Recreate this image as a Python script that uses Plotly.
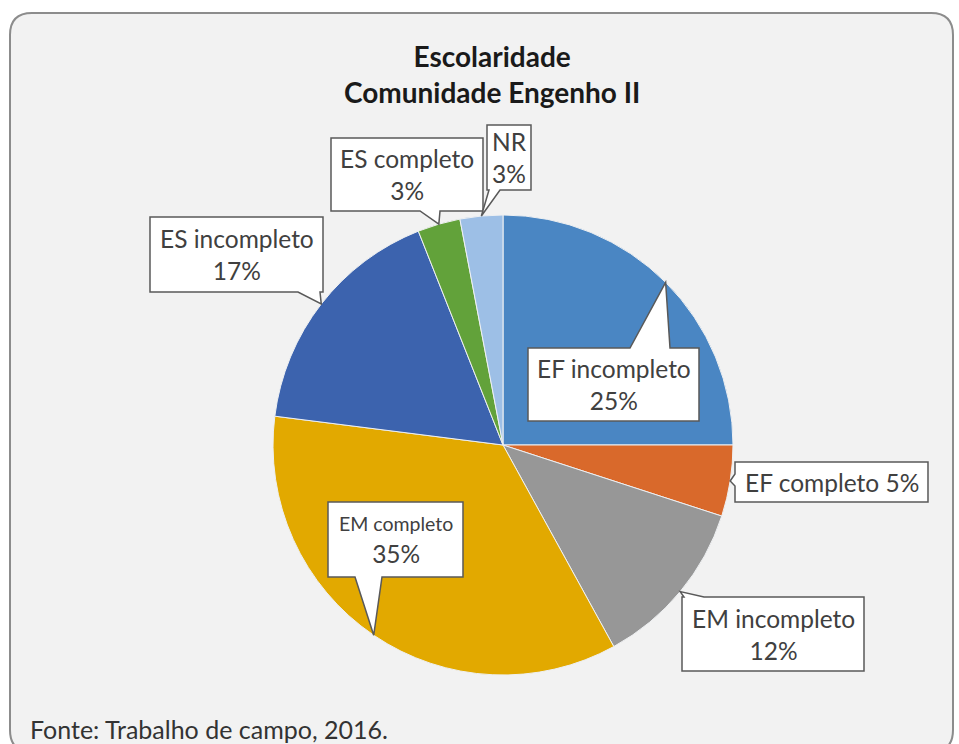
import math
import plotly.graph_objects as go

# Escolaridade - Comunidade Engenho II (percentual)
categories = ["EF incompleto", "EF completo", "EM incompleto", "EM completo",
              "ES incompleto", "ES completo", "NR"]
values = [25, 5, 12, 35, 17, 3, 3]
colors = ["#4a86c3", "#d9692b", "#979797", "#e2a900", "#3c63ae", "#62a23a", "#9dbfe6"]

W, H = 959, 744
CX, CY, R = 503, 445, 230          # pie centre / radius in pixels


def fx(x):
    return x / W


def fy(y):
    return 1 - y / H


def p(x, y):
    return f"{fx(x):.5f},{fy(y):.5f}"


fig = go.Figure()

fig.add_trace(go.Pie(
    labels=categories,
    values=values,
    sort=False,
    direction="clockwise",
    rotation=0,
    marker=dict(colors=colors, line=dict(color="#eef0f2", width=1)),
    textinfo="none",
    hoverinfo="label+percent",
    domain=dict(x=[fx(CX - R), fx(CX + R)], y=[fy(CY + R), fy(CY - R)]),
    showlegend=False,
))

# rounded chart-area frame (its bottom edge runs just past the page)
x0, y0, x1, y1, rr = 10, 13, 953, 752, 22
frame = (f"M {p(x0 + rr, y0)} L {p(x1 - rr, y0)} Q {p(x1, y0)} {p(x1, y0 + rr)} "
         f"L {p(x1, y1 - rr)} Q {p(x1, y1)} {p(x1 - rr, y1)} "
         f"L {p(x0 + rr, y1)} Q {p(x0, y1)} {p(x0, y1 - rr)} "
         f"L {p(x0, y0 + rr)} Q {p(x0, y0)} {p(x0 + rr, y0)} Z")
fig.add_shape(type="path", path=frame, xref="paper", yref="paper", layer="below",
              fillcolor="#f2f2f2", line=dict(color="#8c8c8c", width=2))


def slice_tip(i):
    """Point on the rim at the middle of slice i."""
    total = sum(values)
    cum = sum(values[:i]) + values[i] / 2
    th = 2 * math.pi * cum / total
    return CX + R * math.sin(th), CY - R * math.cos(th)


def callout(box, side, b0, b1, tip):
    bx0, by0, bx1, by1 = box
    tx, ty = tip
    if side == "top":
        pts = [(bx0, by0), (b0, by0), (tx, ty), (b1, by0), (bx1, by0), (bx1, by1), (bx0, by1)]
    elif side == "bottom":
        pts = [(bx0, by0), (bx1, by0), (bx1, by1), (b1, by1), (tx, ty), (b0, by1), (bx0, by1)]
    else:  # left
        pts = [(bx0, by0), (bx1, by0), (bx1, by1), (bx0, by1), (bx0, b1), (tx, ty), (bx0, b0)]
    path = "M " + " L ".join(p(x, y) for x, y in pts) + " Z"
    fig.add_shape(type="path", path=path, xref="paper", yref="paper", layer="above",
                  fillcolor="white", line=dict(color="#595959", width=1.5))


LABEL_FONT = "Lato"
TXT = "#404040"

# label boxes: (box, pointer side, pointer base start, pointer base end)
labels = [
    ((528, 348, 699, 421), "top", 630, 670),
    ((735, 462, 928, 502), "left", 474, 486),
    ((682, 597, 864, 671), "top", 684, 704),
    ((328, 502, 463, 577), "bottom", 355, 382),
    ((150, 217, 323, 292), "bottom", 298, 320),
    ((331, 138, 483, 211), "bottom", 420, 440),
    ((487, 125, 531, 190), "bottom", 489, 500),
]

for i, (box, side, b0, b1) in enumerate(labels):
    callout(box, side, b0, b1, slice_tip(i))
    name, val = categories[i], f"{values[i]}%"
    if name == "EF completo":
        text = f"{name} {val}"
    elif name == "EM completo":
        text = f"<span style='font-size:19.5px'>{name}</span><br>{val}"
    else:
        text = f"{name}<br>{val}"
    bx0, by0, bx1, by1 = box
    fig.add_annotation(x=fx((bx0 + bx1) / 2), y=fy((by0 + by1) / 2), xref="paper", yref="paper",
                       text=text, showarrow=False, xanchor="center", yanchor="middle",
                       align="center", font=dict(family=LABEL_FONT, size=24.5, color=TXT))

fig.add_annotation(x=fx(492), y=fy(74), xref="paper", yref="paper",
                   text="<b>Escolaridade</b><br><b>Comunidade Engenho II</b>",
                   showarrow=False, xanchor="center", yanchor="middle", align="center",
                   font=dict(family=LABEL_FONT, size=28, color="#1a1a1a"))

fig.add_annotation(x=fx(28), y=fy(729), xref="paper", yref="paper",
                   text="Fonte: Trabalho de campo, 2016.",
                   showarrow=False, xanchor="left", yanchor="middle",
                   font=dict(family=LABEL_FONT, size=25, color="#333333"))

fig.update_layout(width=W, height=H, margin=dict(l=0, r=0, t=0, b=0),
                  paper_bgcolor="white", plot_bgcolor="white")

fig.write_html("out.html")
